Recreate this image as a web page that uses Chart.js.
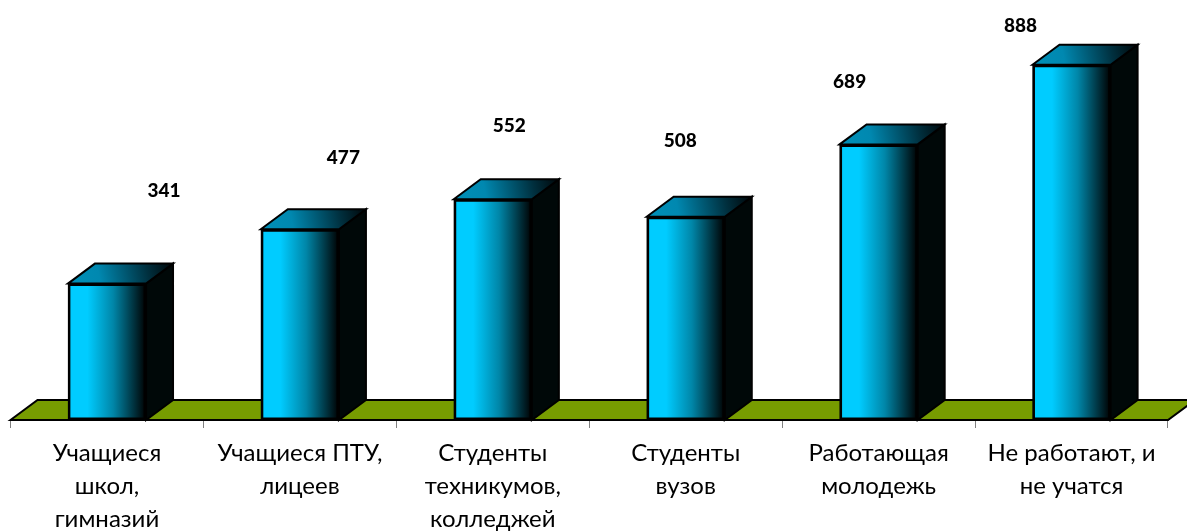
<!DOCTYPE html>
<html><head><meta charset="utf-8">
<style>html,body{margin:0;padding:0;background:#fff;overflow:hidden}canvas{display:block}</style>
<script src="https://cdn.jsdelivr.net/npm/chart.js@4"></script>
</head><body>
<div style="width:1187px;height:531px;position:relative"><canvas id="c" width="1187" height="531"></canvas></div>
<script>
const categories = [
  ["Учащиеся","школ,","гимназий"],
  ["Учащиеся ПТУ,","лицеев"],
  ["Студенты","техникумов,","колледжей"],
  ["Студенты","вузов"],
  ["Работающая","молодежь"],
  ["Не работают, и","не учатся"]
];
const values = [341, 477, 552, 508, 689, 888];
// hand-placed value labels: offset from the bar's top centre, in pixels
const labelDx = [57, 43.5, 16.5, -5.5, -29, -51];
const labelDy = [-93, -71, -73, -76, -63, -39];

const DX = 27, DY = -20;
const BAR_SHARE = 0.405;
const fontFam = 'Lato, "Open Sans", sans-serif';

function path(ctx, pts){
  ctx.beginPath();
  pts.forEach((p,i)=> i?ctx.lineTo(p[0],p[1]):ctx.moveTo(p[0],p[1]));
  ctx.closePath();
}
const floorPlugin = {
  id:'floor3d',
  beforeDatasetsDraw(chart){
    const {ctx, chartArea:a} = chart;
    ctx.save();
    ctx.lineJoin='miter';
    path(ctx,[[a.left,a.bottom],[a.left+DX,a.bottom+DY],[a.right+DX,a.bottom+DY],[a.right,a.bottom]]);
    ctx.fillStyle='#779C00'; ctx.fill();
    ctx.lineWidth=2; ctx.strokeStyle='#000'; ctx.stroke();
    const meta = chart.getDatasetMeta(0);
    meta.data.forEach(el=>{
      const l=el.x-el.width/2, r=el.x+el.width/2, t=el.y, b=el.base;
      path(ctx,[[r,t],[r+DX,t+DY],[r+DX,b+DY],[r,b]]);
      ctx.fillStyle='#000808'; ctx.fill();
      ctx.lineWidth=2; ctx.strokeStyle='#000'; ctx.stroke();
      path(ctx,[[l,t],[l+DX,t+DY],[r+DX,t+DY],[r,t]]);
      const g=ctx.createLinearGradient(l,t,r+DX,t+DY);
      g.addColorStop(0,'#0090B8'); g.addColorStop(0.3,'#0088B0');
      g.addColorStop(0.75,'#00303F'); g.addColorStop(1,'#000608');
      ctx.fillStyle=g; ctx.fill();
      ctx.lineWidth=2; ctx.strokeStyle='#000'; ctx.stroke();
      // backing for the front face so no pale seam shows at the border edge
      ctx.fillStyle='#000';
      ctx.fillRect(l,t,r-l,b-t);
    });
    ctx.restore();
  },
  afterDatasetsDraw(chart){
    const {ctx} = chart;
    ctx.save();
    ctx.font='900 19px '+fontFam;
    ctx.fillStyle='#000'; ctx.textAlign='center'; ctx.textBaseline='middle';
    chart.getDatasetMeta(0).data.forEach((el,i)=>{
      ctx.fillText(String(values[i]), el.x+labelDx[i], el.y+labelDy[i]);
    });
    ctx.restore();
  }
};

new Chart(document.getElementById('c'),{
  type:'bar',
  data:{labels:categories,datasets:[{
    data:values,
    barPercentage:BAR_SHARE,
    categoryPercentage:1,
    borderColor:'#000',
    borderWidth:2.5,
    borderSkipped:false,
    backgroundColor(c){
      const ch=c.chart;
      if(!ch.chartArea||c.dataIndex===undefined) return '#00CCFF';
      const sx=ch.scales.x, cx=sx.getPixelForValue(c.dataIndex), w=sx.width/categories.length*BAR_SHARE;
      const g=ch.ctx.createLinearGradient(cx-w/2,0,cx+w/2,0);
      g.addColorStop(0,'#00CCFF'); g.addColorStop(0.25,'#00CCFF');
      g.addColorStop(0.58,'#0086A8'); g.addColorStop(0.85,'#00303C'); g.addColorStop(1,'#000000');
      return g;
    }
  }]},
  plugins:[floorPlugin],
  options:{
    responsive:false,animation:false,
    layout:{padding:{left:10.5,right:19,top:0,bottom:0}},
    plugins:{legend:{display:false},tooltip:{enabled:false},title:{display:false}},
    scales:{
      y:{display:false,min:0,max:1050},
      x:{
        offset:true,
        grid:{display:true,drawOnChartArea:false,drawTicks:true,tickLength:8,color:'#808080',offset:true},
        border:{display:true,color:'#808080'},
        ticks:{autoSkip:false,maxRotation:0,minRotation:0,padding:9,color:'#000',
          font:{family:fontFam,size:24,lineHeight:33/24}},
        afterFit(s){s.height=111;}
      }
    }
  }
});
</script>
</body></html>
